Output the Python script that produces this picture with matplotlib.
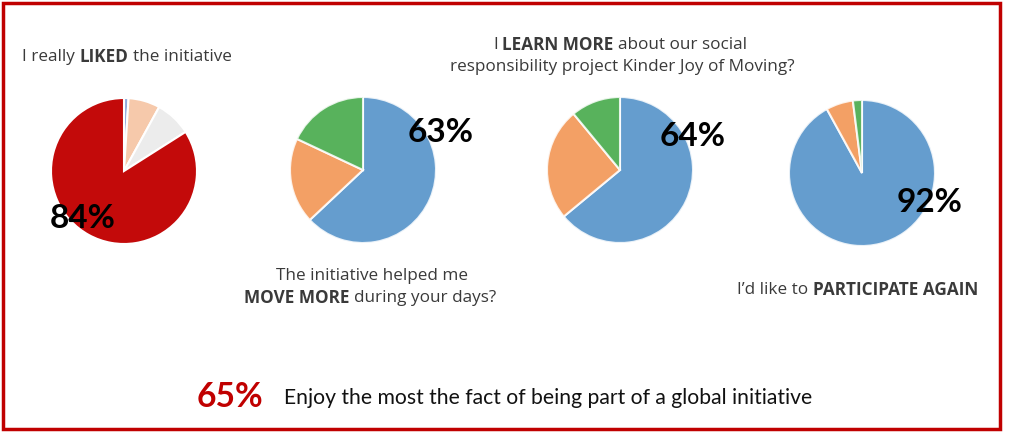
import matplotlib
matplotlib.use("Agg")
import matplotlib.pyplot as plt
from matplotlib.patches import Rectangle

W, H = 1024, 442

# ---- data ----
liked_labels = ["Other", "Neutral", "Disliked", "Liked"]
liked_values = [1, 7, 8, 84]
move_values = [63, 19, 18]
learn_values = [64, 25, 11]
again_values = [92, 6, 2]
headline_pcts = ["84%", "63%", "64%", "92%"]
global_pct = "65%"
global_text = "Enjoy the most the fact of being part of a global initiative"

liked_colors = ["#8FAADC", "#F6C9AB", "#ECECEC", "#C30A0A"]
tab_colors = ["#4A8CC6", "#F2904A", "#3BA53F"]

fig = plt.figure(figsize=(W / 100, H / 100), dpi=100)
ax = fig.add_axes([0, 0, 1, 1])

def Y(yp):
    return H - yp

R = 73
wp = dict(edgecolor="white", linewidth=1.5)
ax.pie(liked_values, colors=liked_colors, startangle=90, counterclock=False,
       center=(124, Y(171)), radius=R, wedgeprops=wp, frame=True)
for vals, c in [(move_values, (363, 170)), (learn_values, (620, 170)), (again_values, (862, 173))]:
    wedges, _ = ax.pie(vals, colors=tab_colors, startangle=90, counterclock=False,
                       center=(c[0], Y(c[1])), radius=R, wedgeprops=wp, frame=True)
    for w_ in wedges:
        w_.set_alpha(0.85)
ax.set_xlim(0, W)
ax.set_ylim(0, H)
ax.set_aspect("equal")
ax.axis("off")

pct_pos = [(83, 218), (441, 133), (693, 137), (930, 203)]
for t, (x, y) in zip(headline_pcts, pct_pos):
    ax.text(x, Y(y), t, ha="center", va="center", fontsize=24, fontweight="bold",
            family="Lato", color="black")

fig.canvas.draw()
renderer = fig.canvas.get_renderer()

def width_of(s, **kw):
    t = ax.text(0, 0, s, **kw)
    w = t.get_window_extent(renderer).width
    t.remove()
    return w

def rich(x, y, parts, ha="left", size=12.3, family="Open Sans", color="#3A3A3A"):
    base = dict(fontsize=size, family=family, color=color, va="center")
    sp = width_of("a a", **base) - width_of("aa", **base)
    widths = [width_of(s, fontweight=wt, **base) for s, wt in parts]
    total = sum(widths) + sp * (len(parts) - 1)
    if ha == "center":
        x0 = x - total / 2
    elif ha == "right":
        x0 = x - total
    else:
        x0 = x
    for (s, wt), w in zip(parts, widths):
        ax.text(x0, Y(y), s, fontweight=wt, ha="left", **base)
        x0 += w + sp

rich(22, 57, [("I really", "normal"), ("LIKED", "bold"), ("the initiative", "normal")])
rich(620, 45, [("I", "normal"), ("LEARN MORE", "bold"), ("about our social", "normal")], ha="center")
rich(622, 67, [("responsibility project Kinder Joy of Moving?", "normal")], ha="center")
rich(372, 276, [("The initiative helped me", "normal")], ha="center")
rich(370, 298, [("MOVE MORE", "bold"), ("during your days?", "normal")], ha="center")
rich(978, 290, [("I\u2019d like to", "normal"), ("PARTICIPATE AGAIN", "bold")], ha="right")

ax.text(197, Y(397), global_pct, ha="left", va="center", fontsize=24.3, fontweight="bold",
        family="Lato", color="#C00000")
ax.text(284, Y(398), global_text, ha="left", va="center", fontsize=15.2,
        family="Lato", color="#111111")

fig.patches.append(Rectangle((3 / W, (H - 429) / H), 997 / W, 426 / H, transform=fig.transFigure,
                             fill=False, edgecolor="#C00000", linewidth=2.5))

fig.savefig("out.png", dpi=100, facecolor="white")
